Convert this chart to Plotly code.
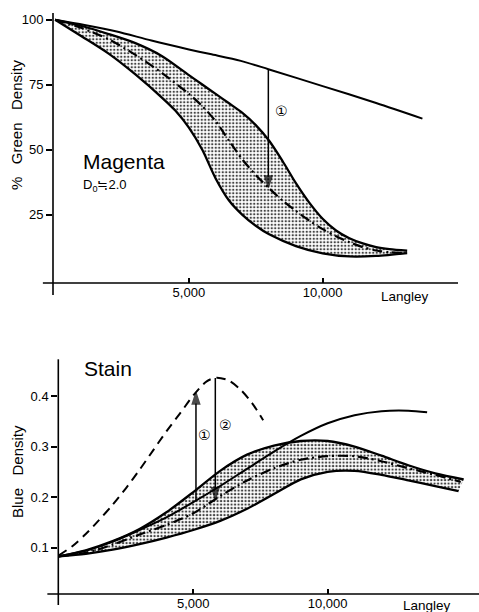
import numpy as np
import plotly.graph_objects as go

# ---------------- Magenta: % green density vs exposure (Langley) ----------------
top_ref_x = [0, 1100, 2300, 3600, 5000, 5800, 6940, 7970, 10000, 12000, 13730]
top_ref_y = [100, 98.0, 95.5, 92.0, 88.6, 86.8, 84.2, 81.0, 74.5, 68.0, 62.0]

top_upper_x = [0, 1000, 2000, 3000, 4000, 5000, 5500, 6000, 6500, 7000, 7500,
               8000, 8500, 9000, 9500, 10000, 10500, 11000, 11500, 12000, 12500, 13160]
top_upper_y = [100, 97.6, 94.5, 91.0, 86.0, 78.7, 75.1, 71.5, 67.9, 64.2, 59.5,
               53.5, 45.7, 37.2, 29.7, 23.5, 19.0, 16.0, 14.0, 12.6, 11.8, 11.2]

top_lower_x = [0, 1000, 2000, 3000, 4000, 4500, 5000, 5500, 6000, 6500, 7000,
               7500, 8000, 9000, 10000, 11000, 12000, 13160]
top_lower_y = [100, 93.6, 87.0, 79.0, 70.0, 65.0, 58.5, 50.0, 39.0, 30.5, 25.0,
               20.8, 17.5, 13.0, 10.2, 9.0, 9.2, 10.3]

top_mid_x = [0, 1000, 2000, 3000, 4000, 5000, 5500, 6000, 6500, 7000, 7500,
             8000, 8500, 9000, 9500, 10000, 10500, 11000, 11500, 12000, 12500, 13100]
top_mid_y = [100, 96.8, 92.5, 86.5, 79.5, 71.5, 66.8, 61.0, 53.5, 46.3, 40.3,
             35.2, 30.5, 26.5, 22.8, 19.5, 16.8, 14.5, 12.6, 11.3, 10.6, 10.4]

top_arrow_x = 7970

# ---------------- Stain: blue density vs exposure (Langley) ----------------
bot_upper_x = [0, 1000, 2000, 3000, 4000, 5000, 6000, 7000, 8000, 9000, 10000,
               11000, 12000, 13000, 14000, 15060]
bot_upper_y = [0.083, 0.095, 0.113, 0.137, 0.170, 0.210, 0.252, 0.284, 0.302,
               0.311, 0.311, 0.300, 0.282, 0.263, 0.247, 0.235]

bot_lower_x = [0, 1000, 2000, 3000, 4000, 5000, 6000, 7000, 8000, 9000, 10000,
               11000, 12000, 13000, 14000, 14870]
bot_lower_y = [0.083, 0.088, 0.096, 0.107, 0.120, 0.135, 0.153, 0.177, 0.206,
               0.235, 0.250, 0.252, 0.244, 0.233, 0.222, 0.212]

bot_mid_x = [0, 1000, 2000, 3000, 4000, 5000, 6000, 7000, 8000, 9000, 10000,
             11000, 12000, 13000, 14000, 14950]
bot_mid_y = [0.083, 0.090, 0.106, 0.126, 0.145, 0.168, 0.202, 0.233, 0.257,
             0.274, 0.281, 0.281, 0.271, 0.257, 0.244, 0.230]

bot_solid_x = [0, 1000, 2000, 3000, 4000, 5000, 6000, 7000, 8000, 9000, 10000,
               11000, 12000, 13000, 13700]
bot_solid_y = [0.083, 0.094, 0.112, 0.135, 0.160, 0.190, 0.222, 0.256, 0.290,
               0.321, 0.346, 0.362, 0.370, 0.371, 0.368]

bot_dash_x = [0, 500, 1000, 1500, 2000, 2500, 3000, 3500, 4000, 4500, 5000,
              5500, 5850, 6300, 6750, 7200, 7600]
bot_dash_y = [0.085, 0.103, 0.127, 0.155, 0.185, 0.218, 0.254, 0.292, 0.330,
              0.365, 0.401, 0.429, 0.436, 0.431, 0.413, 0.385, 0.352]

bot_arrow_x = [5100, 5820]

# ---------------- tick labels ----------------
x_tickvals = [5000, 10000]
x_ticktext = ["5,000", "10,000"]
top_y_tickvals = [25, 50, 75, 100]
top_y_ticktext = ["25", "50", "75", "100"]
bot_y_tickvals = [0.1, 0.2, 0.3, 0.4]
bot_y_ticktext = ["0.1", "0.2", "0.3", "0.4"]

W, H = 479, 612
FONT = "Liberation Sans, Arial, sans-serif"
CIRC = "DejaVu Sans, Noto Sans CJK JP, sans-serif"

stipple = dict(shape=".", size=3.5, solidity=0.36, fgcolor="#444444",
               bgcolor="white", fillmode="replace")

fig = go.Figure()
SPLINE = dict(shape="spline", smoothing=0.8)


def band(ux, uy, lx, ly, xa, ya):
    # lower edge first, then the upper edge filled down onto it
    fig.add_trace(go.Scatter(
        x=lx, y=ly, mode="lines", line=dict(color="black", width=2.3, **SPLINE),
        xaxis=xa, yaxis=ya, hoverinfo="skip"))
    fig.add_trace(go.Scatter(
        x=ux, y=uy, mode="lines", fill="tonexty", fillpattern=stipple,
        line=dict(color="black", width=2.3, **SPLINE),
        xaxis=xa, yaxis=ya, hoverinfo="skip"))


def curve(x, y, xa, ya, dash="solid", width=2.0):
    fig.add_trace(go.Scatter(
        x=x, y=y, mode="lines",
        line=dict(color="black", width=width, dash=dash, **SPLINE),
        xaxis=xa, yaxis=ya, hoverinfo="skip"))


def arrow(x, y_from, y_to, xa, ya, base_tick=False):
    fig.add_trace(go.Scatter(
        x=[x, x], y=[y_from, y_to], mode="lines+markers",
        line=dict(color="black", width=1.5),
        marker=dict(symbol=["line-ew" if base_tick else "circle", "arrow"],
                    size=[8 if base_tick else 0, 12], angleref="previous",
                    color="black", line=dict(color="black", width=1.5)),
        xaxis=xa, yaxis=ya, hoverinfo="skip"))


DASHDOT = "10px,4px,2px,4px"

# top panel
band(top_upper_x, top_upper_y, top_lower_x, top_lower_y, "x", "y")
curve(top_mid_x, top_mid_y, "x", "y", dash=DASHDOT, width=2.2)
curve(top_ref_x, top_ref_y, "x", "y", width=2.0)
arrow(top_arrow_x, float(np.interp(top_arrow_x, top_ref_x, top_ref_y)),
      float(np.interp(top_arrow_x, top_mid_x, top_mid_y)), "x", "y")

# bottom panel
band(bot_upper_x, bot_upper_y, bot_lower_x, bot_lower_y, "x2", "y2")
curve(bot_mid_x, bot_mid_y, "x2", "y2", dash=DASHDOT, width=2.2)
curve(bot_solid_x, bot_solid_y, "x2", "y2", width=2.0)
curve(bot_dash_x, bot_dash_y, "x2", "y2", dash="9px,6px", width=2.0)
arrow(bot_arrow_x[0], float(np.interp(bot_arrow_x[0], bot_solid_x, bot_solid_y)),
      float(np.interp(bot_arrow_x[0], bot_dash_x, bot_dash_y)), "x2", "y2",
      base_tick=True)
arrow(bot_arrow_x[1], float(np.interp(bot_arrow_x[1], bot_dash_x, bot_dash_y)),
      float(np.interp(bot_arrow_x[1], bot_mid_x, bot_mid_y)), "x2", "y2")

annotations = []


def label(text, x, y, size, xanchor="center", angle=0, family=FONT):
    annotations.append(dict(
        text=text, x=x / W, y=1 - y / H, xref="paper", yref="paper",
        xanchor=xanchor, yanchor="middle", showarrow=False, textangle=angle,
        font=dict(family=family, size=size, color="black")))


NB = "\u00a0"
label("①", 281, 111, 14, family=CIRC)
label("①", 204, 435, 14, family=CIRC)
label("②", 225, 425, 14, family=CIRC)
label("Magenta", 81, 162, 21, xanchor="left")
label("D<sub>0</sub>≒2.0", 81, 185, 13, xanchor="left")
label("Stain", 82, 368, 21, xanchor="left")
label("Langley", 405, 296, 13.5)
label("Langley", 427, 605, 13.5)
label("%" + NB * 3 + "Green" + NB * 3 + "Density", 17, 125, 15, angle=-90)
label("Blue" + NB * 3 + "Density", 17, 472, 15, angle=-90)

# axis lines crossing slightly past the origin
shapes = []
for xr, yr, xo, yo in [("x", "y", -0.025, -0.044), ("x2", "y2", -0.026, -0.047)]:
    shapes.append(dict(type="line", xref=f"{xr} domain", yref=f"{yr} domain",
                       x0=xo, x1=1, y0=0, y1=0, line=dict(color="black", width=1.6)))
    shapes.append(dict(type="line", xref=f"{xr} domain", yref=f"{yr} domain",
                       x0=0, x1=0, y0=yo, y1=1, line=dict(color="black", width=1.6)))

tickfont = dict(family=FONT, size=13, color="black")
xcommon = dict(tickvals=x_tickvals, ticktext=x_ticktext, ticks="inside",
               ticklen=5, tickwidth=1.5, tickcolor="black", showline=False,
               showgrid=False, zeroline=False, tickfont=tickfont)
ycommon = dict(ticks="outside", ticklen=6, tickwidth=1.5, tickcolor="black",
               showline=False, showgrid=False, zeroline=False, tickfont=tickfont)

fig.update_layout(
    width=W, height=H, margin=dict(l=0, r=0, t=0, b=0),
    paper_bgcolor="white", plot_bgcolor="white", showlegend=False,
    xaxis=dict(domain=[53 / W, 458 / W], range=[-80, 15060], anchor="y", **xcommon),
    yaxis=dict(domain=[1 - 283 / H, 1 - 13 / H], range=[-1.2, 102.6], anchor="x",
               tickvals=top_y_tickvals, ticktext=top_y_ticktext, **ycommon),
    xaxis2=dict(domain=[58.3 / W, 1.0], range=[-22, 15630], anchor="y2", **xcommon),
    yaxis2=dict(domain=[1 - 594 / H, 1 - 359.3 / H], range=[0.0085, 0.4725],
                anchor="x2", tickvals=bot_y_tickvals, ticktext=bot_y_ticktext,
                **ycommon),
    annotations=annotations, shapes=shapes,
)

fig.write_html("out.html")
